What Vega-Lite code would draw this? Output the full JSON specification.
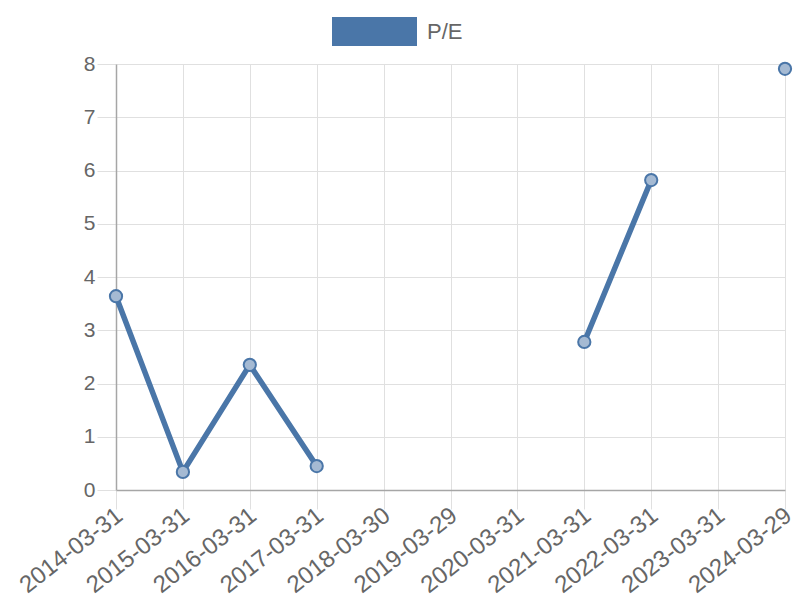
{
  "$schema": "https://vega.github.io/schema/vega-lite/v6.json",
  "width": 669,
  "height": 426,
  "padding": {"left": 116, "top": 64, "right": 15, "bottom": 110},
  "autosize": {"type": "none"},
  "background": "white",
  "config": {
    "view": {"stroke": null},
    "font": "Liberation Sans"
  },
  "data": {
    "values": [
      {"date": "2014-03-31", "pe": 3.64, "series": "P/E"},
      {"date": "2015-03-31", "pe": 0.34, "series": "P/E"},
      {"date": "2016-03-31", "pe": 2.35, "series": "P/E"},
      {"date": "2017-03-31", "pe": 0.45, "series": "P/E"},
      {"date": "2018-03-30", "pe": null, "series": "P/E"},
      {"date": "2019-03-29", "pe": null, "series": "P/E"},
      {"date": "2020-03-31", "pe": null, "series": "P/E"},
      {"date": "2021-03-31", "pe": 2.78, "series": "P/E"},
      {"date": "2022-03-31", "pe": 5.82, "series": "P/E"},
      {"date": "2023-03-31", "pe": null, "series": "P/E"},
      {"date": "2024-03-29", "pe": 7.91, "series": "P/E"}
    ]
  },
  "encoding": {
    "x": {
      "field": "date",
      "type": "ordinal",
      "sort": null,
      "scale": {
        "type": "point",
        "padding": 0,
        "domain": ["2014-03-31","2015-03-31","2016-03-31","2017-03-31","2018-03-30","2019-03-29","2020-03-31","2021-03-31","2022-03-31","2023-03-31","2024-03-29"]
      },
      "axis": {
        "title": null,
        "labelFont": "Liberation Sans",
        "labelFontSize": 24,
        "labelColor": "#666666",
        "labelAngle": -38,
        "labelAlign": "right",
        "labelBaseline": "top",
        "labelPadding": -6,
        "labelOffset": -4,
        "grid": true,
        "gridColor": "#e0e0e0",
        "ticks": true,
        "tickColor": "#e0e0e0",
        "tickSize": 19,
        "domainColor": "#a6a6a6",
        "domainWidth": 1.5,
        "labelOverlap": false
      }
    },
    "y": {
      "field": "pe",
      "type": "quantitative",
      "scale": {"domain": [0, 8], "nice": false},
      "axis": {
        "title": null,
        "values": [0, 1, 2, 3, 4, 5, 6, 7, 8],
        "format": "d",
        "labelFont": "Liberation Sans",
        "labelFontSize": 21,
        "labelColor": "#666666",
        "labelPadding": 2,
        "grid": true,
        "gridColor": "#e0e0e0",
        "ticks": true,
        "tickColor": "#e0e0e0",
        "tickSize": 19,
        "domainColor": "#a6a6a6",
        "domainWidth": 1.5
      }
    }
  },
  "layer": [
    {
      "mark": {"type": "line", "color": "#4a76a8", "strokeWidth": 5.5},
      "encoding": {
        "color": {
          "field": "series",
          "type": "nominal",
          "scale": {"range": ["#4a76a8"]},
          "legend": {
            "orient": "none",
            "legendX": 216,
            "legendY": -75,
            "title": null,
            "symbolType": "M-1,-0.34H1V0.34H-1Z",
            "symbolSize": 7225,
            "symbolFillColor": "#4a76a8",
            "symbolStrokeColor": "#4a76a8",
            "symbolStrokeWidth": 0,
            "labelFontSize": 22,
            "labelColor": "#666666",
            "labelFont": "Liberation Sans",
            "labelOffset": 10,
            "direction": "horizontal"
          }
        }
      }
    },
    {
      "mark": {
        "type": "point",
        "filled": true,
        "fill": "#a5bad3",
        "stroke": "#4a76a8",
        "strokeWidth": 2,
        "size": 150,
        "opacity": 1
      }
    }
  ]
}
